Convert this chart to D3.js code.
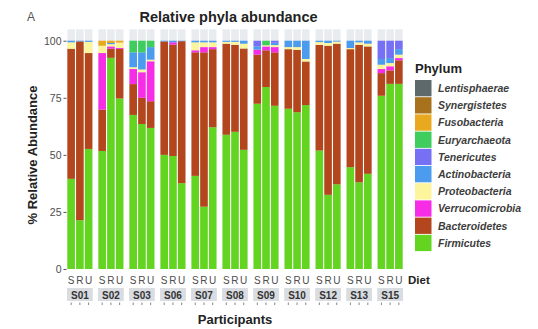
<!DOCTYPE html>
<html>
<head>
<meta charset="utf-8">
<script src="https://cdn.jsdelivr.net/npm/d3@7"></script>
<style>
  html, body { margin: 0; padding: 0; background: #fff; }
  svg { display: block; font-family: "Liberation Sans", Arial, sans-serif; }
</style>
</head>
<body>
<svg id="chart" width="538" height="329"></svg>
<script>
// Participants (facets) and diets (bars within each facet)
const participants = ["S01","S02","S03","S06","S07","S08","S09","S10","S12","S13","S15"];
const diets = ["S","R","U"];

// Phyla in stacking order, bottom to top
const phyla = ["Firmicutes","Bacteroidetes","Verrucomicrobia","Proteobacteria","Actinobacteria",
               "Tenericutes","Euryarchaeota","Fusobacteria","Synergistetes","Lentisphaerae"];
const phylumColors = ["#63d520","#b4461d","#f62ce6","#fdf59c","#4b9bef",
                      "#7670f4","#3fcd5e","#e9a91f","#a7721b","#5e696b"];

// Relative abundance (%) per sample, ordered S01-S, S01-R, S01-U, S02-S, ...
const firmicutes      = [39.5,21.4,52.6, 51.7,92.5,74.7, 67.5,63.5,61.8, 50,49.5,37.6, 40.8,27.3,62.1, 58.8,60.1,52.2, 72.4,79.7,71.5, 70.2,68.7,71.8, 51.9,32.5,37.1, 44.6,38,41.7, 75.9,81.1,81.1];
const bacteroidetes   = [57,78.3,42, 18.1,4.0,21.7, 13.5,11.5,11.7, 49.7,48.8,62.2, 54.1,67.6,34.2, 39.9,38.1,44.4, 21.5,16.1,23.4, 26.1,27.3,19.1, 46.3,65.3,61.6, 51.7,60.2,55.8, 9.9,5.9,10.3];
const verrucomicrobia = [0,0,0, 24.8,1.0,0.4, 6.6,11.2,17.5, 0,1.0,0, 0.9,2.3,0.9, 0,0,0, 2.2,1.7,2.3, 0,0,0, 0,0,0, 0,0,0, 1.8,1.8,1.0];
const proteobacteria  = [2.8,0,4.9, 3.2,1.0,2.4, 0.8,1.2,0.7, 0,0,0, 3.5,2.1,2.1, 0.8,1.3,2.1, 0,0.5,0.9, 0.9,1.2,1.1, 1.2,1.2,0.9, 0.5,1.1,1.2, 1.9,1.4,1.5];
const actinobacteria  = [0.7,0.3,0.5, 0,0.5,0, 6.5,7.5,5.5, 0.3,0.7,0.2, 0.7,0.7,0.7, 0.5,0.5,1.3, 1.4,0,1.0, 2.8,2.8,8.0, 0.6,1.0,0.4, 3.2,0.7,1.3, 2.5,2.2,2.4];
const tenericutes     = [0,0,0, 0,0,0, 0,0,0, 0,0,0, 0,0,0, 0,0,0, 2.5,0,0.9, 0,0,0, 0,0,0, 0,0,0, 8.0,7.6,3.7];
const euryarchaeota   = [0,0,0, 0,0,0, 5.1,5.1,2.8, 0,0,0, 0,0,0, 0,0,0, 0,2.0,0, 0,0,0, 0,0,0, 0,0,0, 0,0,0];
const fusobacteria    = [0,0,0, 2.2,1.0,0.8, 0,0,0, 0,0,0, 0,0,0, 0,0,0, 0,0,0, 0,0,0, 0,0,0, 0,0,0, 0,0,0];
const synergistetes   = [0,0,0, 0,0,0, 0,0,0, 0,0,0, 0,0,0, 0,0,0, 0,0,0, 0,0,0, 0,0,0, 0,0,0, 0,0,0];
const lentisphaerae   = [0,0,0, 0,0,0, 0,0,0, 0,0,0, 0,0,0, 0,0,0, 0,0,0, 0,0,0, 0,0,0, 0,0,0, 0,0,0];

const yTicks = [0, 25, 50, 75, 100];

const seriesByPhylum = {
  Firmicutes: firmicutes, Bacteroidetes: bacteroidetes, Verrucomicrobia: verrucomicrobia,
  Proteobacteria: proteobacteria, Actinobacteria: actinobacteria, Tenericutes: tenericutes,
  Euryarchaeota: euryarchaeota, Fusobacteria: fusobacteria, Synergistetes: synergistetes,
  Lentisphaerae: lentisphaerae
};

// One row per sample
const rows = [];
participants.forEach((p, pi) => {
  diets.forEach((d, di) => {
    const i = pi * diets.length + di;
    const row = { participant: p, diet: d };
    phyla.forEach(ph => { row[ph] = seriesByPhylum[ph][i]; });
    rows.push(row);
  });
});

const svg = d3.select("#chart");
const color = d3.scaleOrdinal().domain(phyla).range(phylumColors);

// Layout
const plotLeft = 67, plotRight = 403;
const y = d3.scaleLinear().domain([0, 105]).range([269, 29.3]);
const xPanel = d3.scaleBand().domain(participants).range([plotLeft, plotRight]).paddingInner(0.17).paddingOuter(0);
const xBar = d3.scaleBand().domain(diets).range([0, xPanel.bandwidth()]).paddingInner(0.13).paddingOuter(0.04);

const stacked = d3.stack().keys(phyla)(rows);

// Title and panel tag
svg.append("text").attr("x", 27).attr("y", 21).attr("font-size", 12).attr("fill", "#555").text("A");
svg.append("text").attr("x", 228.5).attr("y", 22).attr("text-anchor", "middle")
  .attr("font-size", 14.5).attr("font-weight", "bold").attr("fill", "#222").text("Relative phyla abundance");

// Facet panels
const panels = svg.selectAll("g.panel").data(participants).join("g")
  .attr("class", "panel")
  .attr("transform", p => `translate(${xPanel(p)},0)`);

// light backdrop column behind each bar
panels.selectAll("rect.bg").data(diets).join("rect")
  .attr("class", "bg")
  .attr("x", d => xBar(d)).attr("width", xBar.bandwidth())
  .attr("y", y(105)).attr("height", y(0) - y(105))
  .attr("fill", "#e9ecef");

// Stacked bars
stacked.forEach(layer => {
  const key = layer.key;
  layer.forEach(seg => {
    const r = seg.data;
    const h = y(seg[0]) - y(seg[1]);
    if (h <= 0) return;
    svg.append("rect")
      .attr("x", xPanel(r.participant) + xBar(r.diet))
      .attr("width", xBar.bandwidth())
      .attr("y", y(seg[1]))
      .attr("height", h)
      .attr("fill", color(key));
  });
});

// Diet labels under each bar
panels.selectAll("text.diet").data(diets).join("text")
  .attr("class", "diet")
  .attr("x", d => xBar(d) + xBar.bandwidth() / 2)
  .attr("y", 283.5)
  .attr("text-anchor", "middle")
  .attr("font-size", 10)
  .attr("fill", "#4d4d4d")
  .text(d => d);

// Facet strips at the bottom
panels.append("rect")
  .attr("x", 0).attr("width", xPanel.bandwidth())
  .attr("y", 288).attr("height", 13)
  .attr("fill", "#d9dde1");
panels.append("text")
  .attr("x", xPanel.bandwidth() / 2).attr("y", 298.5)
  .attr("text-anchor", "middle")
  .attr("font-size", 10).attr("font-weight", "bold").attr("fill", "#333")
  .text(p => p);

// small tick marks below strips
panels.selectAll("line.tick").data(diets).join("line")
  .attr("class", "tick")
  .attr("x1", d => xBar(d) + xBar.bandwidth() / 2)
  .attr("x2", d => xBar(d) + xBar.bandwidth() / 2)
  .attr("y1", 302.5).attr("y2", 305)
  .attr("stroke", "#666").attr("stroke-width", 0.8);

// Y axis
const yAxis = d3.axisLeft(y).tickValues(yTicks).tickSize(3).tickPadding(2);
const gy = svg.append("g").attr("transform", `translate(${plotLeft - 0.5},0)`).call(yAxis);
gy.select(".domain").remove();
gy.selectAll(".tick line").attr("stroke", "#555");
gy.selectAll(".tick text").attr("font-size", 10.5).attr("fill", "#4d4d4d")
  .attr("font-family", "'Liberation Sans', Arial, sans-serif");

svg.append("text")
  .attr("transform", "translate(37,155) rotate(-90)")
  .attr("text-anchor", "middle")
  .attr("font-size", 13).attr("font-weight", "bold").attr("fill", "#222")
  .text("% Relative Abundance");

// Axis titles
svg.append("text").attr("x", 408).attr("y", 284).attr("font-size", 11.5)
  .attr("font-weight", "bold").attr("fill", "#222").text("Diet");
svg.append("text").attr("x", 235).attr("y", 324).attr("text-anchor", "middle")
  .attr("font-size", 13).attr("font-weight", "bold").attr("fill", "#222").text("Participants");

// Legend (top item is the top of the stack)
const legendOrder = phyla.slice().reverse();
const legend = svg.append("g").attr("transform", "translate(415,0)");
legend.append("text").attr("x", 0).attr("y", 72.5)
  .attr("font-size", 13).attr("font-weight", "bold").attr("fill", "#222").text("Phylum");
const items = legend.selectAll("g.item").data(legendOrder).join("g")
  .attr("class", "item")
  .attr("transform", (d, i) => `translate(0,${80 + i * 17.2})`);
items.append("rect").attr("width", 16.5).attr("height", 16.3).attr("fill", d => color(d));
items.append("text").attr("x", 23).attr("y", 12)
  .attr("font-size", 10.5).attr("font-style", "italic").attr("font-weight", "bold").attr("fill", "#3d3d3d")
  .text(d => d);
</script>
</body>
</html>
